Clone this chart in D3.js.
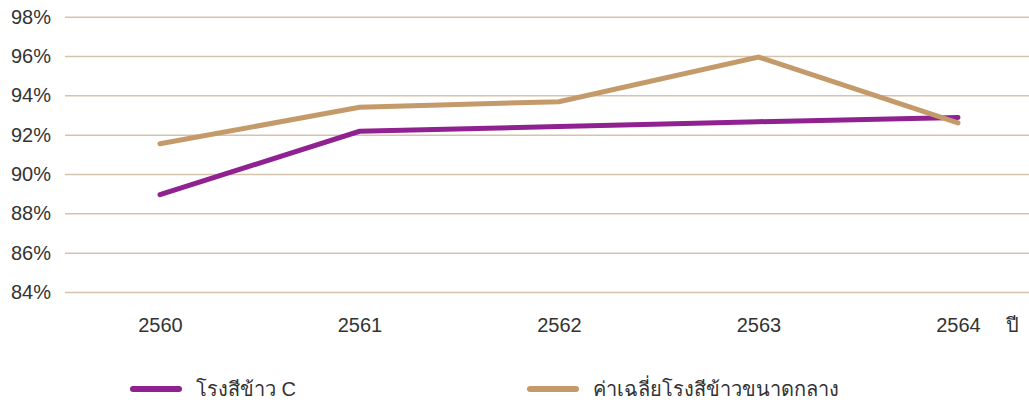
<!DOCTYPE html>
<html><head><meta charset="utf-8">
<script src="https://cdn.jsdelivr.net/npm/d3@7"></script>
<style>
html,body{margin:0;padding:0;background:#fff;}
text{font-family:"Liberation Sans",Arial,sans-serif;fill:#333;}
</style></head>
<body><svg id="c" width="1029" height="402"></svg>
<script>
const years = ["2560","2561","2562","2563","2564"];
const millC = [88.95, 92.17, 92.42, 92.66, 92.88];
const avgMedium = [91.54, 93.39, 93.68, 95.95, 92.6];
const yTicks = [84, 86, 88, 90, 92, 94, 96, 98];
const seriesNames = ["โรงสีข้าว C", "ค่าเฉลี่ยโรงสีข้าวขนาดกลาง"];
const xUnit = "ปี";

const svg = d3.select("#c");
const x = d3.scalePoint().domain(years).range([160, 958]);
const y = d3.scaleLinear().domain([84, 98]).range([292, 16.7]);
const colors = ["#8f2290", "#c49a6a"];

// gridlines
const yAxis = d3.axisLeft(y).tickValues(yTicks).tickFormat(d => d + "%").tickSize(-(1029 - 65)).tickPadding(14);
const gy = svg.append("g").attr("transform", "translate(65,0)").call(yAxis);
gy.select(".domain").remove();
gy.selectAll(".tick line").attr("stroke", "#d3c4ad").attr("stroke-width", 1.5);
gy.selectAll(".tick text").style("font-size", "20px").attr("fill", "#333");

// x axis labels
const xAxis = d3.axisBottom(x).tickSize(0).tickPadding(0);
const gx = svg.append("g").attr("transform", "translate(0,318)").call(xAxis);
gx.select(".domain").remove();
gx.selectAll(".tick text").style("font-size", "20px").attr("fill", "#333").attr("dy", "0.71em");
svg.append("text").attr("x", 1012).attr("y", 318).attr("dy", "0.71em").attr("text-anchor", "middle")
  .style("font-size", "20px").text(xUnit);

const line = d3.line().x((d, i) => x(years[i])).y(d => y(d));
[millC, avgMedium].forEach((s, i) => {
  svg.append("path").datum(s).attr("d", line).attr("fill", "none")
    .attr("stroke", colors[i]).attr("stroke-width", 5)
    .attr("stroke-linecap", "round").attr("stroke-linejoin", "miter");
});
// redraw purple end over? (purple drawn first, tan on top as in reference)

// legend
const legX = [133, 530];
seriesNames.forEach((n, i) => {
  const g = svg.append("g").attr("transform", `translate(${legX[i]},389)`);
  g.append("line").attr("x1", 0).attr("x2", 46).attr("y1", 0).attr("y2", 0)
    .attr("stroke", colors[i]).attr("stroke-width", 6).attr("stroke-linecap", "round");
  g.append("text").attr("x", 63).attr("y", 0).attr("dy", "0.35em").style("font-size", "20px").text(n);
});
</script></body></html>
